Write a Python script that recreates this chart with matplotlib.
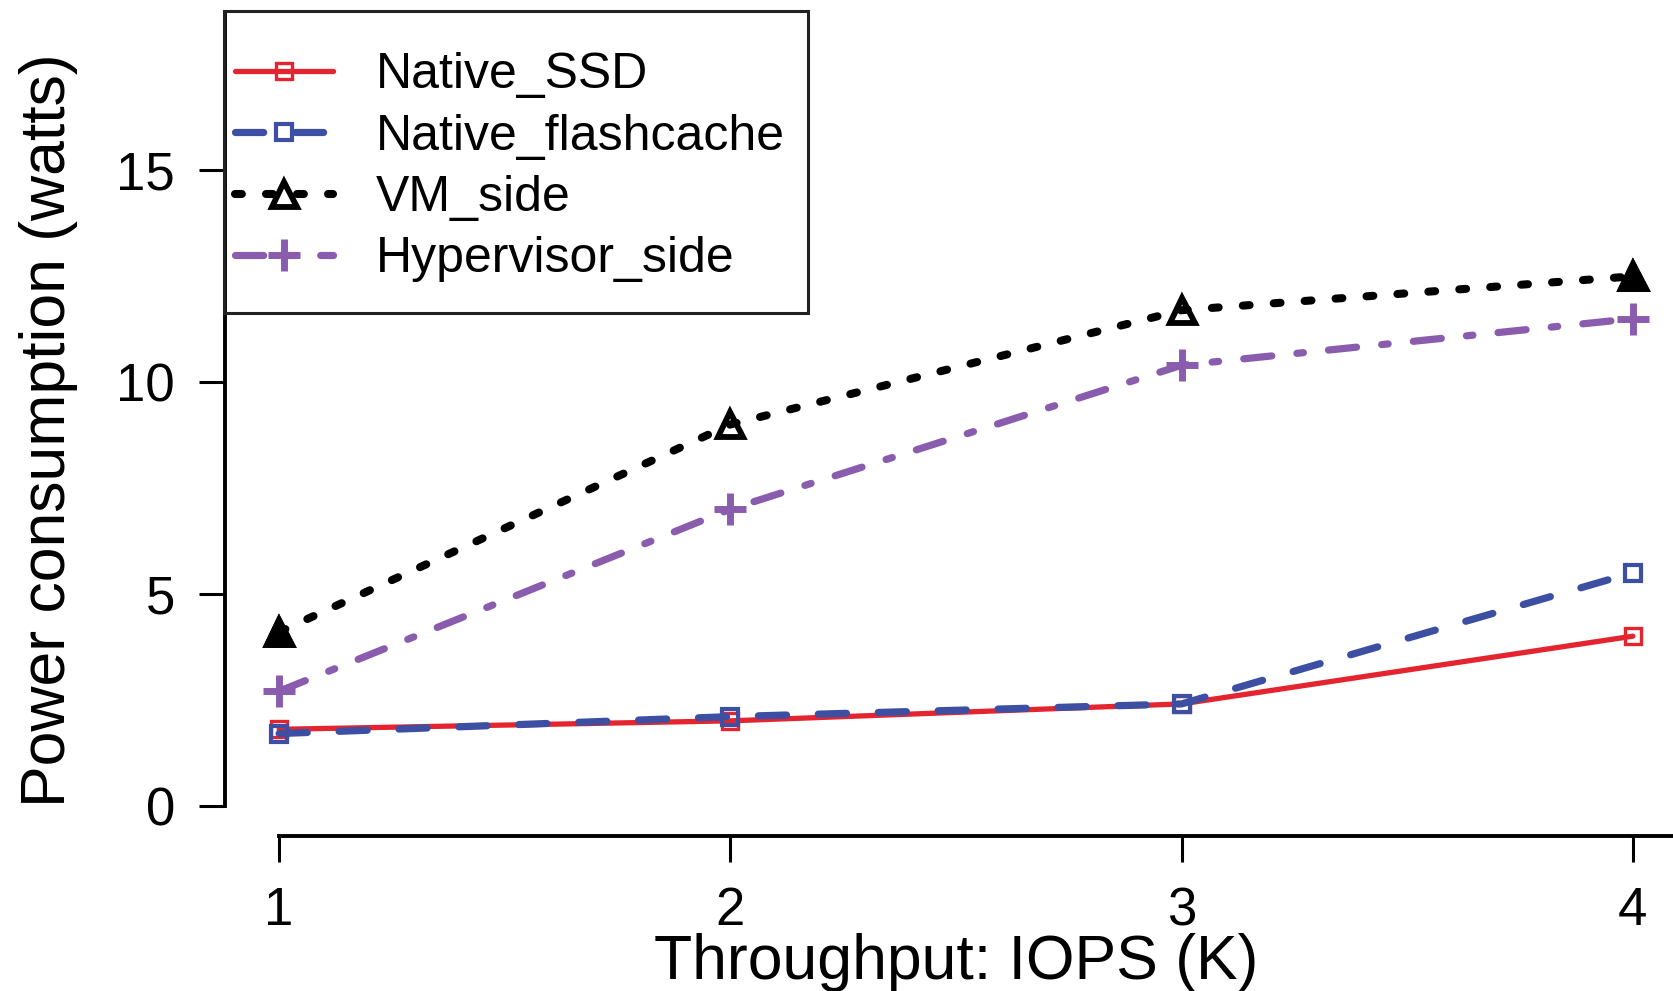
"""Power consumption vs throughput for native and virtualised SSD setups."""

import matplotlib
matplotlib.use("Agg")
import matplotlib.pyplot as plt
from matplotlib.patches import Rectangle

plt.rcParams['font.family'] = ['Liberation Sans', 'DejaVu Sans']

# data
iops_k = [1, 2, 3, 4]
native_ssd = [1.8, 2.0, 2.4, 4.0]
native_flashcache = [1.7, 2.1, 2.4, 5.5]
vm_side = [4.1, 9.0, 11.7, 12.5]
hypervisor_side = [2.7, 7.0, 10.4, 11.5]

series_names = ['Native_SSD', 'Native_flashcache', 'VM_side', 'Hypervisor_side']
y_ticks = [0, 5, 10, 15]

W, H = 1674, 991
fig = plt.figure(figsize=(W / 100, H / 100), dpi=100)
# R-style plot region: xlim/ylim padded by 4 %
ax = fig.add_axes([225 / W, 1 - 836 / H, 1462 / W, 823 / H])
ax.set_xlim(0.88, 4.12)
ax.set_ylim(-0.72, 18.72)

ax.plot(iops_k, native_ssd, color='#e42530', lw=3.8, ls='-',
        marker='s', ms=12, mfc='none', mew=2.4, label=series_names[0],
        solid_capstyle='round', clip_on=False)
ax.plot(iops_k, native_flashcache, color='#3c4fa2', lw=5.2,
        ls=(0, (3.9, 4.4)), dash_capstyle='round',
        marker='s', ms=12, mfc='none', mew=3, label=series_names[1],
        clip_on=False)
ax.plot(iops_k, vm_side, color='black', lw=5.8,
        ls=(0, (0.85, 3.0)), dash_capstyle='round',
        marker='^', ms=18, mfc='none', mew=4.2, label=series_names[2],
        clip_on=False)
# end points of the VM curve come out solid in the original
ax.plot(iops_k, vm_side, ls='none', marker='^', ms=18, color='black',
        mew=4.2, markevery=[0, 3], clip_on=False)
ax.plot(iops_k, hypervisor_side, color='#8a5cae', lw=5.2,
        ls=(0, (3.9, 3.5, 0.9, 3.5)), dash_capstyle='round',
        marker='+', ms=23, mew=5, label=series_names[3],
        clip_on=False)

for side in ('top', 'right'):
    ax.spines[side].set_visible(False)
for side in ('left', 'bottom'):
    ax.spines[side].set_linewidth(2.8)
ax.spines['left'].set_bounds(0, 18.72)
ax.spines['bottom'].set_bounds(1, 4.12)

ax.set_xticks(iops_k)
ax.set_yticks(y_ticks)
ax.tick_params(axis='both', direction='out', length=19, width=2.2,
               labelsize=38)
ax.tick_params(axis='x', pad=17)
ax.tick_params(axis='y', pad=17)

ax.set_xlabel('Throughput: IOPS (K)', fontsize=45)
ax.xaxis.set_label_coords(0.5, -0.174)
ax.xaxis.label.set_va('baseline')
ax.set_ylabel('Power consumption (watts)', fontsize=45)
ax.yaxis.set_label_coords(-0.121, 0.493)
ax.yaxis.label.set_va('center')

# legend box drawn like R's: frame separate from the entries
fig.patches.append(Rectangle((224 / W, 1 - 313 / H), 584 / W, 302 / H,
                             transform=fig.transFigure, fill=False,
                             edgecolor='#222222', lw=2.2))
ax.legend(loc='upper left', bbox_to_anchor=(235 / W, 1 - 52 / H),
          bbox_transform=fig.transFigure, frameon=False, fontsize=36,
          borderpad=0, borderaxespad=0, handlelength=1.96,
          handletextpad=0.86, labelspacing=0.31)

fig.savefig('out.png', dpi=100)
